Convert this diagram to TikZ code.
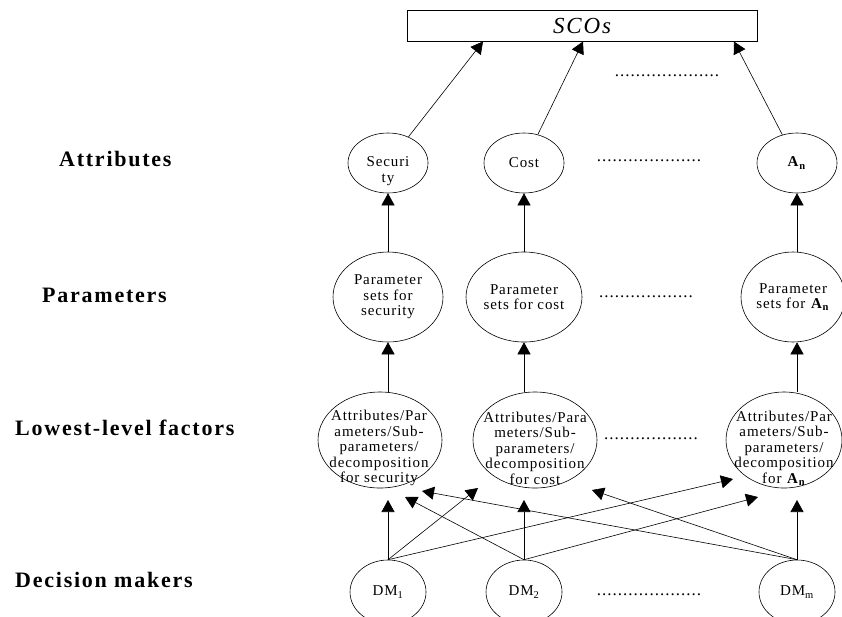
\documentclass[tikz,border=0pt]{standalone}
\usepackage{fontspec}
\setmainfont{Liberation Serif}
\newfontfamily\elfont[LetterSpace=6]{Liberation Serif}
\newfontfamily\lblfont[LetterSpace=8]{Liberation Serif}
\usetikzlibrary{shapes.geometric,arrows.meta}
\begin{document}
\begin{tikzpicture}[x=1pt,y=-1pt,
  ell/.style={draw, ellipse, inner sep=0pt, line width=0.6pt, align=center,
              font=\elfont\fontsize{15}{15.5}\selectfont},
  etxt/.style={align=center, inner sep=0pt, font=\elfont\fontsize{15}{15.5}\selectfont},
  arr/.style={-{Triangle[length=12pt,width=13pt]}, line width=0.6pt},
  lbl/.style={anchor=west, inner sep=0pt, font=\lblfont\bfseries\fontsize{22}{24}\selectfont},
  dotrow/.style={inner sep=0pt, font=\elfont\fontsize{17}{17}\selectfont}]
\useasboundingbox (0,0) rectangle (842,616);
\clip (0,0) rectangle (842,616);

% top box
\node[draw, line width=0.6pt, minimum width=350pt, minimum height=31pt, inner sep=0pt,
      font=\lblfont\itshape\fontsize{23}{23}\selectfont] (sco) at (582,25.5) {SCOs};
\coordinate (s1) at (483,41.5);
\coordinate (s2) at (583,41.5);
\coordinate (s3) at (734,41.5);
\node[dotrow] (d0) at (667,76) {....................};

% row labels
\node[lbl] (L1) at (59,159) {Attributes};
\node[lbl] (L2) at (42,295) {Parameters};
\node[lbl] (L3) at (15,428) {Lowest-level factors};
\node[lbl] (L4) at (15,580) {Decision makers};

% attributes
\node[ell, minimum width=80pt, minimum height=60pt] (aSec) at (388,163) {};
\node[etxt] (aSecT) at (388,171) {Securi\\ty};
\node[ell, minimum width=80pt, minimum height=60pt] (aCost) at (524,163) {Cost};
\node[ell, minimum width=80pt, minimum height=60pt] (aAn) at (797,163) {\textbf{A}\textsubscript{\textbf{n}}};
\node[dotrow] (d1) at (649,161) {....................};

% parameters
\node[ell, minimum width=110pt, minimum height=90pt] (pSec) at (388,297) {Parameter\\sets for\\security};
\node[ell, minimum width=116pt, minimum height=90pt] (pCost) at (524,297) {Parameter\\sets for cost};
\node[ell, minimum width=104pt, minimum height=90pt] (pAn) at (793,297) {Parameter\\sets for \textbf{A}\textsubscript{\textbf{n}}};
\node[dotrow] (d2) at (646,297) {..................};

% lowest-level factors
\node[ell, minimum width=124pt, minimum height=96pt] (lSec) at (380,440) {};
\node[etxt] (lSecT) at (379,448) {Attributes/Par\\ameters/Sub-\\parameters/\\decomposition\\for security};
\node[ell, minimum width=124pt, minimum height=96pt] (lCost) at (535,440) {};
\node[etxt] (lCostT) at (535,448) {Attributes/Para\\meters/Sub-\\parameters/\\decomposition\\for cost};
\node[ell, minimum width=116pt, minimum height=96pt] (lAn) at (784,440) {};
\node[etxt] (lAnT) at (784,448) {Attributes/Par\\ameters/Sub-\\parameters/\\decomposition\\for \textbf{A}\textsubscript{\textbf{n}}};
\node[dotrow] (d3) at (651,439) {..................};

% decision makers
\node[ell, minimum width=76pt, minimum height=64pt] (dm1) at (388,592) {DM\textsubscript{1}};
\node[ell, minimum width=76pt, minimum height=64pt] (dm2) at (524,592) {DM\textsubscript{2}};
\node[ell, minimum width=76pt, minimum height=64pt] (dmm) at (797,592) {DM\textsubscript{m}};
\node[dotrow] (d4) at (649,595) {....................};

% arrows to SCOs
\draw[arr] (aSec) -- (s1);
\draw[arr] (aCost) -- (s2);
\draw[arr] (aAn) -- (s3);

% parameters -> attributes
\draw[arr] (pSec) -- (aSec);
\draw[arr] (pCost) -- (aCost);
\draw[arr] (pAn.north -| aAn) -- (aAn.south);

% lowest-level -> parameters
\draw[arr] (lSec.north -| pSec) -- (pSec.south);
\draw[arr] (lCost.north -| pCost) -- (pCost.south);
\draw[arr] (lAn.north -| aAn) -- (pAn.south -| aAn);

% decision makers -> lowest-level factors
\coordinate (t11) at (388,500);
\coordinate (t22) at (524,500);
\coordinate (tmm) at (797,500);
\coordinate (t12) at (478,488);
\coordinate (t13) at (733,479);
\coordinate (t21) at (405,497);
\coordinate (t23) at (758,497);
\coordinate (tm1) at (422,491);
\coordinate (tm2) at (592,490);
\draw[arr] (dm1.north) -- (t11);
\draw[arr] (dm1.north) -- (t12);
\draw[arr] (dm1.north) -- (t13);
\draw[arr] (dm2.north) -- (t22);
\draw[arr] (dm2.north) -- (t21);
\draw[arr] (dm2.north) -- (t23);
\draw[arr] (dmm.north) -- (tmm);
\draw[arr] (dmm.north) -- (tm1);
\draw[arr] (dmm.north) -- (tm2);
\end{tikzpicture}
\end{document}
